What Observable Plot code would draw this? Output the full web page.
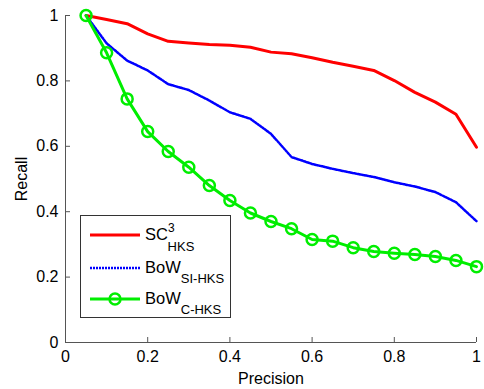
<!DOCTYPE html>
<html><head><meta charset="utf-8">
<script src="https://cdn.jsdelivr.net/npm/d3@7"></script>
<script src="https://cdn.jsdelivr.net/npm/@observablehq/plot@0.6"></script>
<style>body{margin:0;background:#fff;} svg{font-family:"Liberation Sans",Arial,sans-serif;}</style>
</head><body><div id="chart"></div>
<script>
const precision = [0.05,0.1,0.15,0.2,0.25,0.3,0.35,0.4,0.45,0.5,0.55,0.6,0.65,0.7,0.75,0.8,0.85,0.9,0.95,1.0];
const sc3 = [1.0,0.988,0.975,0.944,0.921,0.916,0.911,0.909,0.903,0.888,0.883,0.871,0.857,0.845,0.832,0.801,0.765,0.735,0.698,0.597];
const bowSI = [1.0,0.915,0.862,0.832,0.79,0.772,0.74,0.704,0.684,0.638,0.567,0.546,0.531,0.518,0.506,0.49,0.477,0.46,0.429,0.371];
const bowC = [1.0,0.886,0.745,0.645,0.584,0.536,0.480,0.434,0.396,0.370,0.348,0.315,0.310,0.290,0.278,0.273,0.269,0.263,0.251,0.232];
const xTicks = [0,0.2,0.4,0.6,0.8,1];
const yTicks = [0,0.2,0.4,0.6,0.8,1];
const seriesNames = ["SC", "BoW", "BoW"];
const seriesSubs = ["HKS", "SI-HKS", "C-HKS"];
const seriesColors = ["#ff0000", "#0000ff", "#00ee00"];

const mk = ys => precision.map((x,i)=>({x, y: ys[i]}));
const axisColor = "#555";
const plot = Plot.plot({
  width: 484, height: 389,
  marginLeft: 65, marginRight: 8, marginTop: 15, marginBottom: 47,
  style: {fontFamily: "Liberation Sans, Arial, sans-serif", fontSize: "16px", color: "#000", background: "#fff"},
  x: {domain: [0,1]},
  y: {domain: [0,1]},
  marks: [
    Plot.ruleX([0], {stroke: axisColor, strokeWidth: 1}),
    Plot.ruleY([0], {stroke: axisColor, strokeWidth: 1}),
    Plot.axisX({ticks: xTicks, tickSize: -5, tickPadding: 13, stroke: axisColor, tickFormat: d => String(d), fontSize: 16, label: "Precision", labelAnchor: "center", labelOffset: 41, labelArrow: "none"}),
    Plot.axisY({ticks: yTicks, tickSize: -5, tickPadding: 12, stroke: axisColor, tickFormat: d => String(d), fontSize: 16, label: "Recall", labelAnchor: "center", labelOffset: 50, labelArrow: "none"}),
    Plot.line(mk(sc3), {x: "x", y: "y", stroke: seriesColors[0], strokeWidth: 3}),
    Plot.line(mk(bowSI), {x: "x", y: "y", stroke: seriesColors[1], strokeWidth: 2.5, strokeDasharray: "2,1"}),
    Plot.line(mk(bowC), {x: "x", y: "y", stroke: seriesColors[2], strokeWidth: 3}),
    Plot.dot(mk(bowC), {x: "x", y: "y", r: 5.5, stroke: seriesColors[2], strokeWidth: 2.5, fill: "none"})
  ]
});
document.getElementById("chart").appendChild(plot);

// Legend
const svg = d3.select(plot);
const lg = svg.append("g").attr("font-family", "Liberation Sans, Arial, sans-serif").attr("text-anchor", "start");
lg.append("rect").attr("x", 80.5).attr("y", 215.5).attr("width", 150).attr("height", 102)
  .attr("fill", "#fff").attr("stroke", "#333").attr("stroke-width", 1);
const rowsY = [235, 268, 299];
seriesNames.forEach((name, i) => {
  const y = rowsY[i];
  const ln = lg.append("line").attr("x1", 90).attr("x2", 140).attr("y1", y).attr("y2", y)
    .attr("stroke", seriesColors[i]).attr("stroke-width", i === 1 ? 2.5 : 3);
  if (i === 1) ln.attr("stroke-dasharray", "2,1");
  if (i === 2) lg.append("circle").attr("cx", 115).attr("cy", y).attr("r", 5.5).attr("fill", "none")
    .attr("stroke", seriesColors[i]).attr("stroke-width", 2.5);
  const t = lg.append("text").attr("x", 145).attr("y", y + 5).attr("font-size", 16.5).attr("fill", "#000").attr("text-anchor", "start");
  t.append("tspan").text(name);
  if (i === 0) {
    t.append("tspan").attr("font-size", 12).attr("dy", -8).text("3");
    t.append("tspan").attr("font-size", 13).attr("dy", 19).attr("dx", -7).text(seriesSubs[i]);
  } else {
    t.append("tspan").attr("font-size", 13).attr("dy", 10).text(seriesSubs[i]);
  }
});
</script></body></html>
